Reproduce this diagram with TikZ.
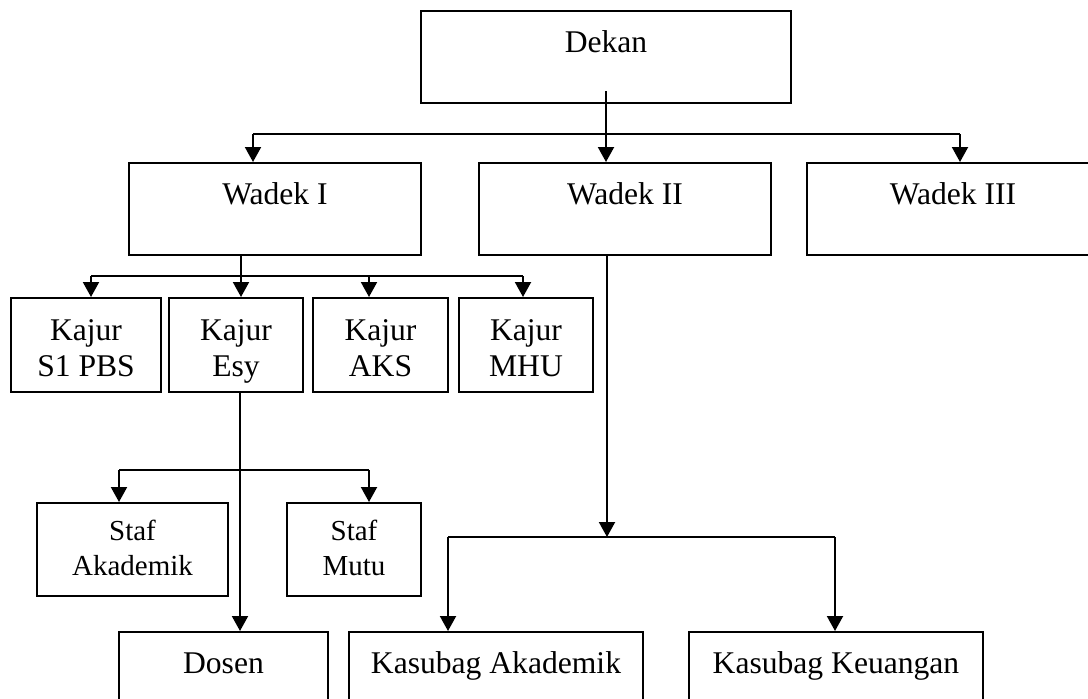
\documentclass[tikz,border=0pt]{standalone}
\usepackage{fontspec}
\setmainfont{Liberation Serif}
\usetikzlibrary{arrows.meta}

\begin{document}
\begin{tikzpicture}[x=0.5pt, y=-0.5pt,
    box/.style={draw, line width=1pt, inner sep=0pt, align=center,
        font=\fontsize{15.8}{18}\selectfont},
    onebox/.style={box, minimum height=46pt, text height=11pt, text depth=16pt},
    twobox/.style={box, minimum height=47pt, text height=35pt, text depth=4pt},
    stafbox/.style={box, minimum height=46.5pt, font=\fontsize{14.5}{17.5}\selectfont,
        text height=29.5pt, text depth=4pt},
    link/.style={line width=1pt},
    >={Triangle[length=7.5pt, width=8pt]}]

    % Page size
    \useasboundingbox (0,0) rectangle (1088,698);

    % Draw boxes
    \node[onebox, minimum width=185pt] (dekan) at (606,57) {Dekan};
    \node[onebox, minimum width=146pt] (wadekI) at (275,209) {Wadek I};
    \node[onebox, minimum width=146pt] (wadekII) at (625,209) {Wadek II};
    \node[onebox, minimum width=146pt] (wadekIII) at (953,209) {Wadek III};

    \node[twobox, minimum width=75pt] (kajurPBS) at (86,345) {Kajur\\S1 PBS};
    \node[twobox, minimum width=67pt] (kajurEsy) at (236,345) {Kajur\\Esy};
    \node[twobox, minimum width=67.5pt] (kajurAKS) at (380.5,345) {Kajur\\AKS};
    \node[twobox, minimum width=67pt] (kajurMHU) at (526,345) {Kajur\\MHU};

    \node[stafbox, minimum width=95.5pt] (stafAkad) at (132.5,549.5) {Staf\\Akademik};
    \node[stafbox, minimum width=67pt] (stafMutu) at (354,549.5) {Staf\\Mutu};

    \node[onebox, minimum width=104.5pt] (dosen) at (223.5,678) {Dosen};
    \node[onebox, minimum width=147pt] (kasubagAkad) at (496,678) {Kasubag Akademik};
    \node[onebox, minimum width=147pt] (kasubagKeu) at (836,678) {Kasubag Keuangan};

    % Define coordinates
    \coordinate (wbarL) at (253,134);
    \coordinate (wbarR) at (960,134);
    \coordinate (trunkI) at (241,276);
    \coordinate (kbarL) at (91,276);
    \coordinate (kbarR) at (523,276);
    \coordinate (trunkE) at (240,470);
    \coordinate (sbarL) at (119,470);
    \coordinate (sbarR) at (369,470);
    \coordinate (trunkII) at (607,537);
    \coordinate (bbarL) at (448,537);
    \coordinate (bbarR) at (835,537);

    % Dekan to the Wadek boxes
    \draw[link, ->] ([yshift=6.5pt]dekan.south) -- (dekan.south |- wadekII.north);
    \draw[link] (wbarL) -- (wbarR);
    \draw[link, ->] (wbarL) -- (wbarL |- wadekI.north);
    \draw[link, ->] (wbarR) -- (wbarR |- wadekIII.north);

    % Wadek I to the Kajur boxes
    \draw[link, ->] (trunkI |- wadekI.south) -- (trunkI |- kajurEsy.north);
    \draw[link] (kbarL) -- (kbarR);
    \foreach \x/\n in {91/kajurPBS, 369/kajurAKS, 523/kajurMHU} {
        \coordinate (d\n) at (\x,276);
        \draw[link, ->] (d\n) -- (d\n |- \n.north);
    }

    % Kajur Esy to Staf and Dosen
    \draw[link, ->] (trunkE |- kajurEsy.south) -- (trunkE |- dosen.north);
    \draw[link] (sbarL) -- (sbarR);
    \draw[link, ->] (sbarL) -- (sbarL |- stafAkad.north);
    \draw[link, ->] (sbarR) -- (sbarR |- stafMutu.north);

    % Wadek II to the Kasubag boxes
    \draw[link, ->] (trunkII |- wadekII.south) -- (trunkII);
    \draw[link] (bbarL) -- (bbarR);
    \draw[link, ->] (bbarL) -- (bbarL |- kasubagAkad.north);
    \draw[link, ->] (bbarR) -- (bbarR |- kasubagKeu.north);

\end{tikzpicture}
\end{document}
